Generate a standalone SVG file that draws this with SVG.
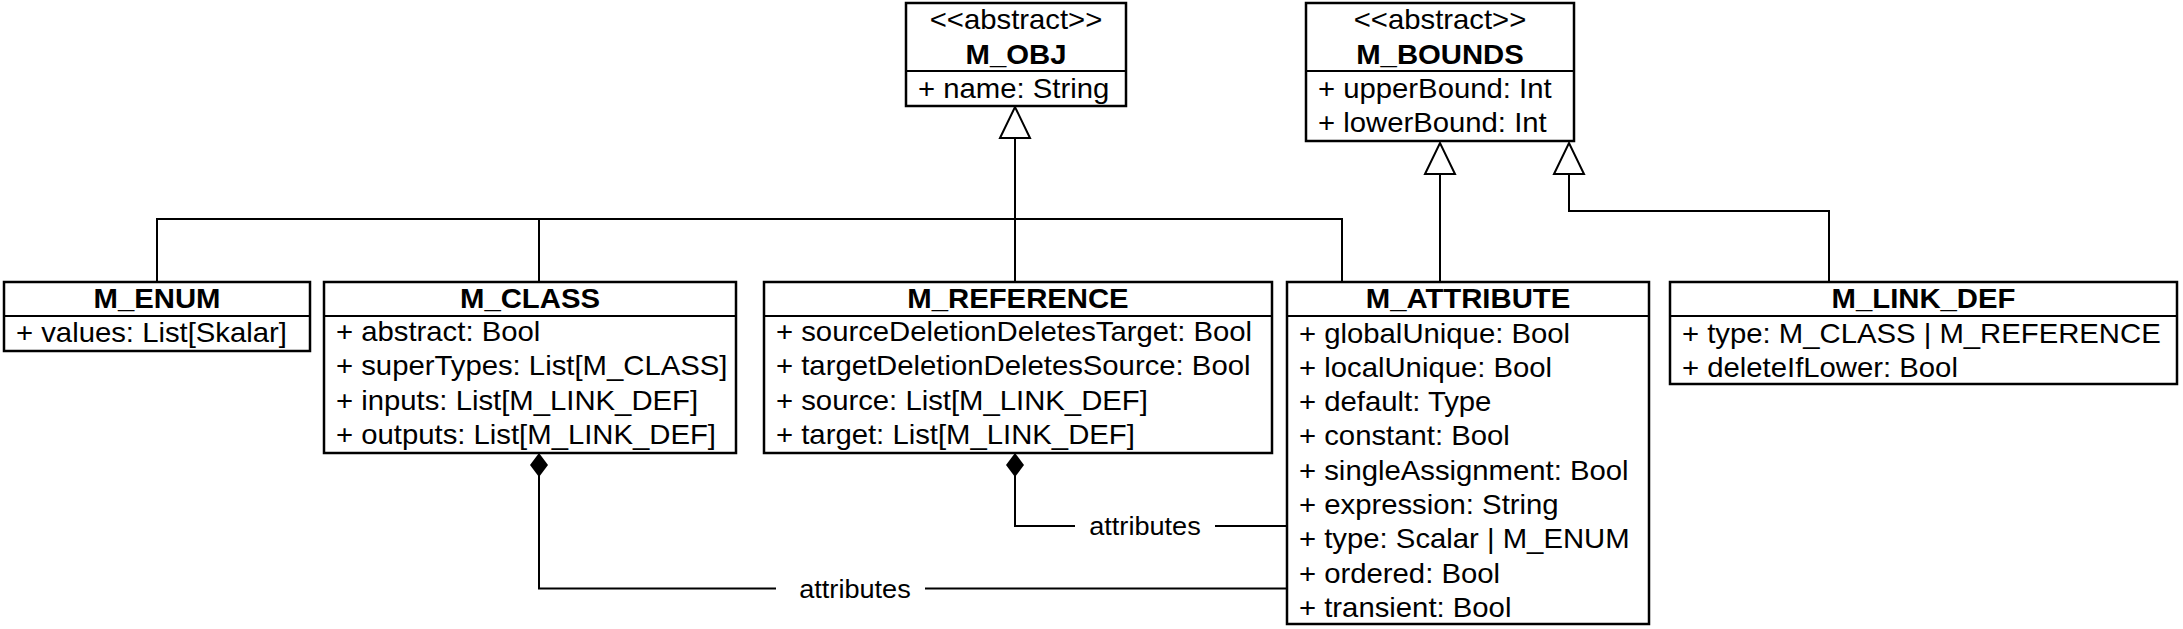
<svg xmlns="http://www.w3.org/2000/svg" width="2183" height="629" viewBox="0 0 2183 629">
<style>
.box{fill:#fff;stroke:#000;stroke-width:2.5}
.dv{stroke:#000;stroke-width:2}
.t{font-family:"Liberation Sans",Arial,Helvetica,sans-serif;font-size:27px;fill:#000}
.b{font-weight:bold}
.c{text-anchor:middle}
.lbl{font-size:25px}
.edge{fill:none;stroke:#000;stroke-width:2}
</style>
<defs>
<marker id="gen" viewBox="-2 -2 36 36" markerWidth="36" markerHeight="36" refX="31" refY="15" orient="auto" markerUnits="userSpaceOnUse" overflow="visible">
<path d="M0,0 L31,15 L0,30 Z" fill="#fff" stroke="#000" stroke-width="2"/>
</marker>
<marker id="comp" viewBox="0 0 24 18" markerWidth="24" markerHeight="18" refX="24" refY="9" orient="auto" markerUnits="userSpaceOnUse" overflow="visible">
<path d="M0,9 L12,0 L24,9 L12,18 Z" fill="#000"/>
</marker>
</defs>
<rect width="2183" height="629" fill="#fff"/>
<g id="connectors">
<path class="edge" d="M1015,282 V107" marker-end="url(#gen)"/>
<path class="edge" d="M157,282 V219 H1342 V282"/>
<path class="edge" d="M539,219 V282"/>
<path class="edge" d="M1440,282 V143" marker-end="url(#gen)"/>
<path class="edge" d="M1829,282 V211 H1569 V143" marker-end="url(#gen)"/>
<path class="edge" d="M1286,526 H1215"/>
<path class="edge" d="M1075,526 H1015 V453" marker-end="url(#comp)"/>
<text class="t lbl c" transform="translate(1145 535) scale(1.085 1)">attributes</text>
<path class="edge" d="M1286,588.5 H925"/>
<path class="edge" d="M776,588.5 H539 V453" marker-end="url(#comp)"/>
<text class="t lbl c" transform="translate(855 597.5) scale(1.085 1)">attributes</text>
</g>
<g id="M_OBJ">
<rect class="box" x="906" y="3" width="220" height="103"/>
<line class="dv" x1="906" y1="71" x2="1126" y2="71"/>
<text class="t c" transform="translate(1016 29) scale(1.085 1)">&lt;&lt;abstract&gt;&gt;</text>
<text class="t b c" transform="translate(1016 63.5) scale(1.085 1)">M_OBJ</text>
<text class="t" transform="translate(918 97.5) scale(1.085 1)">+ name: String</text>
</g>
<g id="M_BOUNDS">
<rect class="box" x="1306" y="3" width="268" height="138"/>
<line class="dv" x1="1306" y1="71" x2="1574" y2="71"/>
<text class="t c" transform="translate(1440 29) scale(1.085 1)">&lt;&lt;abstract&gt;&gt;</text>
<text class="t b c" transform="translate(1440 63.5) scale(1.085 1)">M_BOUNDS</text>
<text class="t" transform="translate(1318 97.5) scale(1.085 1)">+ upperBound: Int</text>
<text class="t" transform="translate(1318 131.5) scale(1.085 1)">+ lowerBound: Int</text>
</g>
<g id="M_ENUM">
<rect class="box" x="4" y="282" width="306" height="69"/>
<line class="dv" x1="4" y1="316" x2="310" y2="316"/>
<text class="t b c" transform="translate(157 307.5) scale(1.085 1)">M_ENUM</text>
<text class="t" transform="translate(16 341.5) scale(1.085 1)">+ values: List[Skalar]</text>
</g>
<g id="M_CLASS">
<rect class="box" x="324" y="282" width="412" height="171"/>
<line class="dv" x1="324" y1="316" x2="736" y2="316"/>
<text class="t b c" transform="translate(530 307.5) scale(1.085 1)">M_CLASS</text>
<text class="t" transform="translate(336 340.5) scale(1.085 1)">+ abstract: Bool</text>
<text class="t" transform="translate(336 375) scale(1.085 1)">+ superTypes: List[M_CLASS]</text>
<text class="t" transform="translate(336 409.5) scale(1.085 1)">+ inputs: List[M_LINK_DEF]</text>
<text class="t" transform="translate(336 444) scale(1.085 1)">+ outputs: List[M_LINK_DEF]</text>
</g>
<g id="M_REFERENCE">
<rect class="box" x="764" y="282" width="508" height="171"/>
<line class="dv" x1="764" y1="316" x2="1272" y2="316"/>
<text class="t b c" transform="translate(1018 307.5) scale(1.085 1)">M_REFERENCE</text>
<text class="t" transform="translate(776 340.5) scale(1.085 1)">+ sourceDeletionDeletesTarget: Bool</text>
<text class="t" transform="translate(776 375) scale(1.085 1)">+ targetDeletionDeletesSource: Bool</text>
<text class="t" transform="translate(776 409.5) scale(1.085 1)">+ source: List[M_LINK_DEF]</text>
<text class="t" transform="translate(776 444) scale(1.085 1)">+ target: List[M_LINK_DEF]</text>
</g>
<g id="M_ATTRIBUTE">
<rect class="box" x="1287" y="282" width="362" height="342"/>
<line class="dv" x1="1287" y1="316" x2="1649" y2="316"/>
<text class="t b c" transform="translate(1468 307.5) scale(1.085 1)">M_ATTRIBUTE</text>
<text class="t" transform="translate(1299 342.5) scale(1.085 1)">+ globalUnique: Bool</text>
<text class="t" transform="translate(1299 376.8) scale(1.085 1)">+ localUnique: Bool</text>
<text class="t" transform="translate(1299 411.1) scale(1.085 1)">+ default: Type</text>
<text class="t" transform="translate(1299 445.4) scale(1.085 1)">+ constant: Bool</text>
<text class="t" transform="translate(1299 479.7) scale(1.085 1)">+ singleAssignment: Bool</text>
<text class="t" transform="translate(1299 514) scale(1.085 1)">+ expression: String</text>
<text class="t" transform="translate(1299 548.3) scale(1.085 1)">+ type: Scalar | M_ENUM</text>
<text class="t" transform="translate(1299 582.6) scale(1.085 1)">+ ordered: Bool</text>
<text class="t" transform="translate(1299 616.9) scale(1.085 1)">+ transient: Bool</text>
</g>
<g id="M_LINK_DEF">
<rect class="box" x="1670" y="282" width="507" height="102"/>
<line class="dv" x1="1670" y1="316" x2="2177" y2="316"/>
<text class="t b c" transform="translate(1923.5 307.5) scale(1.085 1)">M_LINK_DEF</text>
<text class="t" transform="translate(1682 342.5) scale(1.085 1)">+ type: M_CLASS | M_REFERENCE</text>
<text class="t" transform="translate(1682 376.5) scale(1.085 1)">+ deleteIfLower: Bool</text>
</g>
</svg>
